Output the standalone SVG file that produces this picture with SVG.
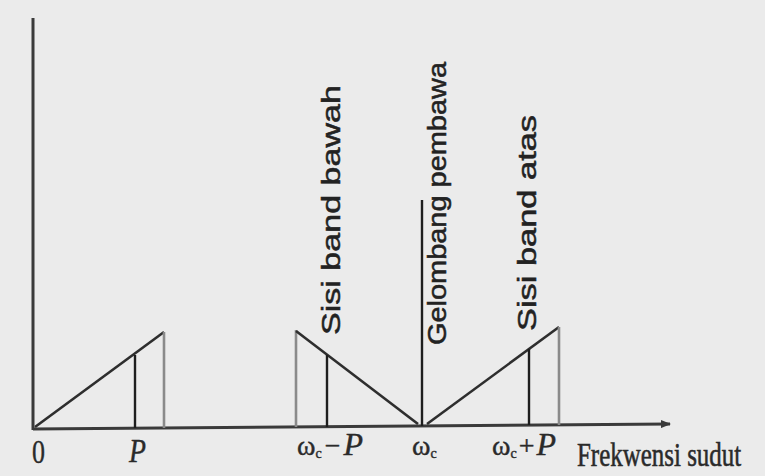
<svg xmlns="http://www.w3.org/2000/svg" width="765" height="476" viewBox="0 0 765 476">
<style>
.ax{stroke:#3a3a3a;stroke-width:3;fill:none}
.ln{stroke:#2e2e2e;stroke-width:2.6;fill:none}
.dk{stroke:#1e1e1e;stroke-width:2.4;fill:none}
.lt{stroke:#8a8a8a;stroke-width:2.6;fill:none}
.vt{font-family:"Liberation Sans",Arial,sans-serif;font-size:25px;fill:#222;stroke:#222;stroke-width:0.5}
.lb{font-family:"Liberation Serif","Times New Roman",serif;fill:#2a2a2a;stroke:#2a2a2a;stroke-width:0.4}
</style>
<defs>
<marker id="arr" markerWidth="10" markerHeight="8" refX="9" refY="4" orient="auto" markerUnits="userSpaceOnUse">
<path d="M0,0 L10,4 L0,8 Z" fill="#3a3a3a"/>
</marker>
</defs>
<rect x="0" y="0" width="765" height="476" fill="#ebebeb"/>
<g id="axes">
<line class="ax" x1="33" y1="18" x2="33" y2="430"/>
<line class="ax" x1="33" y1="429" x2="670" y2="424" marker-end="url(#arr)"/>
</g>
<g id="connectors">
<line class="ln" x1="35" y1="427" x2="164" y2="332"/>
<line class="lt" x1="164" y1="332" x2="164" y2="428"/>
<line class="dk" x1="135" y1="355" x2="135" y2="428"/>
<line class="lt" x1="296" y1="330" x2="296" y2="427"/>
<line class="ln" x1="296" y1="331" x2="418" y2="424"/>
<line class="dk" x1="327" y1="355" x2="327" y2="427"/>
<line class="dk" x1="422" y1="200" x2="422" y2="426"/>
<line class="ln" x1="427" y1="424" x2="559" y2="327"/>
<line class="lt" x1="559" y1="327" x2="559" y2="425"/>
<line class="dk" x1="529" y1="349" x2="529" y2="425"/>
</g>
<g id="lsb-label">
<text class="vt" transform="translate(340,335) rotate(-90)" textLength="250" lengthAdjust="spacingAndGlyphs">Sisi band bawah</text>
</g>
<g id="carrier-label">
<text class="vt" transform="translate(446,345) rotate(-90)" textLength="283" lengthAdjust="spacingAndGlyphs">Gelombang pembawa</text>
</g>
<g id="usb-label">
<text class="vt" transform="translate(536,331) rotate(-90)" textLength="216" lengthAdjust="spacingAndGlyphs">Sisi band atas</text>
</g>
<g id="tick-labels">
<text class="lb" x="32" y="463" font-size="34" textLength="13" lengthAdjust="spacingAndGlyphs">0</text>
<text class="lb" x="129" y="462" font-size="34" font-style="italic" textLength="17" lengthAdjust="spacingAndGlyphs">P</text>
<text class="lb" x="297" y="455" font-size="28"><tspan>ω</tspan><tspan font-size="14" dy="3">c</tspan><tspan dy="-3" dx="3">−</tspan><tspan dx="3" font-style="italic" font-size="32">P</tspan></text>
<text class="lb" x="412" y="455" font-size="28"><tspan>ω</tspan><tspan font-size="14" dy="3">c</tspan></text>
<text class="lb" x="492" y="455" font-size="28"><tspan>ω</tspan><tspan font-size="14" dy="3">c</tspan><tspan dy="-3" dx="2">+</tspan><tspan dx="2" font-style="italic" font-size="32">P</tspan></text>
</g>
<g id="axis-label">
<text class="lb" transform="translate(577,466) scale(1.04,1.4)" font-size="24">Frekwensi sudut</text>
</g>
</svg>
